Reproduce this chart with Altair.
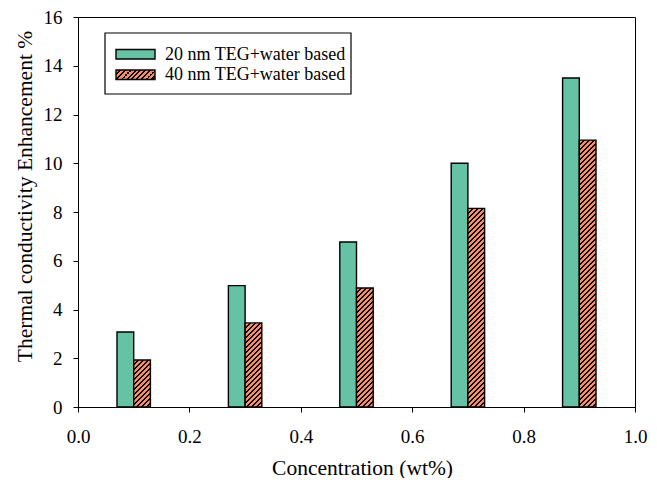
import altair as alt
import pandas as pd

# ---- data ----
concentration = [0.1, 0.3, 0.5, 0.7, 0.9]
enh_20nm = [3.08, 4.98, 6.77, 10.0, 13.5]
enh_40nm = [1.93, 3.45, 4.88, 8.15, 10.95]
series = ["20 nm TEG+water based", "40 nm TEG+water based"]
x_ticks = [0.0, 0.2, 0.4, 0.6, 0.8, 1.0]
y_ticks = [0, 2, 4, 6, 8, 10, 12, 14, 16]

# ---- style ----
W, H = 557, 390
YMAX = 16
BAR_W = 0.03
GREEN = "#66C2A5"
ORANGE = "#FC8D62"
FONT = "Liberation Serif"


def hatch(w, h, period=5.0, frac=0.4):
    """Diagonal '/' stripes as a hard-stop linear gradient for a w x h px box."""
    L = w + h
    k = L / (w * w + h * h)
    step = period / L
    stops = [alt.GradientStop(offset=0, color=ORANGE)]
    i = 1
    while True:
        s = i * step - frac * step / 2
        e = s + frac * step
        if s >= 1:
            break
        s = round(s, 6)
        e = round(min(e, 1.0), 6)
        stops += [
            alt.GradientStop(offset=s, color=ORANGE),
            alt.GradientStop(offset=s, color="black"),
            alt.GradientStop(offset=e, color="black"),
            alt.GradientStop(offset=e, color=ORANGE),
        ]
        i += 1
    stops.append(alt.GradientStop(offset=1, color=ORANGE))
    return alt.LinearGradient(gradient="linear", stops=stops,
                              x1=0, y1=0, x2=round(w * k, 6), y2=round(h * k, 6))


df = pd.DataFrame({"conc": concentration, "v20": enh_20nm, "v40": enh_40nm})

x_axis = alt.Axis(values=x_ticks, format=".1f", title="Concentration (wt%)",
                  tickSize=5, labelPadding=15, labelFlush=False, labelOverlap=False,
                  titleX=284, titleY=67, titleAlign="center", titleBaseline="alphabetic",
                  grid=False)
y_axis = alt.Axis(values=y_ticks, title="Thermal conductivity Enhancement %",
                  tickSize=5, labelPadding=11, labelFlush=False, labelOverlap=False,
                  titleX=-47, titleY=179, titleAngle=270, titleAlign="center",
                  titleBaseline="alphabetic", grid=False)
x_scale = alt.Scale(domain=[0, 1], nice=False, zero=False)
y_scale = alt.Scale(domain=[0, YMAX], nice=False)

green = alt.Chart(df).transform_calculate(
    x0=f"datum.conc - {BAR_W}"
).mark_rect(fill=GREEN, stroke="black", strokeWidth=1.4).encode(
    x=alt.X("x0:Q", scale=x_scale, axis=x_axis),
    x2="conc:Q",
    y=alt.Y("v20:Q", scale=y_scale, axis=y_axis),
    y2=alt.datum(0),
)

layers = [green]
bar_w_px = BAR_W * W
for i in range(len(concentration)):
    h_px = enh_40nm[i] / YMAX * H
    layers.append(
        alt.Chart(df.iloc[[i]]).transform_calculate(
            x1=f"datum.conc + {BAR_W}"
        ).mark_rect(fill=hatch(bar_w_px, h_px), stroke="black", strokeWidth=1.4).encode(
            x=alt.X("conc:Q", scale=x_scale, axis=x_axis),
            x2="x1:Q",
            y=alt.Y("v40:Q", scale=y_scale, axis=y_axis),
            y2=alt.datum(0),
        )
    )

# ---- legend (drawn manually to reproduce the hatched key) ----
leg_df = pd.DataFrame({"label": series})
box = alt.Chart(leg_df.iloc[[0]]).mark_rect(
    fill="white", stroke="black", strokeWidth=1.2
).encode(x=alt.value(27), x2=alt.value(273), y=alt.value(16), y2=alt.value(77))
sym1 = alt.Chart(leg_df.iloc[[0]]).mark_rect(
    fill=GREEN, stroke="black", strokeWidth=1.4
).encode(x=alt.value(38), x2=alt.value(77), y=alt.value(32.5), y2=alt.value(42))
sym2 = alt.Chart(leg_df.iloc[[1]]).mark_rect(
    fill=hatch(39, 9.5), stroke="black", strokeWidth=1.4
).encode(x=alt.value(38), x2=alt.value(77), y=alt.value(53), y2=alt.value(62.5))
txt1 = alt.Chart(leg_df.iloc[[0]]).mark_text(
    font=FONT, fontSize=18, align="left", baseline="middle", color="black"
).encode(x=alt.value(87), y=alt.value(37.5), text="label:N")
txt2 = alt.Chart(leg_df.iloc[[1]]).mark_text(
    font=FONT, fontSize=18, align="left", baseline="middle", color="black"
).encode(x=alt.value(87), y=alt.value(58), text="label:N")

layers += [box, sym1, sym2, txt1, txt2]

chart = alt.layer(*layers).properties(
    width=W, height=H,
    autosize=alt.AutoSizeParams(type="none"),
    padding={"left": 70, "top": 9, "right": 14, "bottom": 71},
).configure_view(
    stroke="black", strokeWidth=1
).configure_axis(
    domainColor="black", domainWidth=1, tickColor="black", tickWidth=1,
    labelFont=FONT, labelFontSize=19, labelColor="black",
    titleFont=FONT, titleFontSize=21.5, titleFontWeight="normal", titleColor="black",
)

chart.save("out.html", embed_options={"renderer": "svg", "actions": False})
